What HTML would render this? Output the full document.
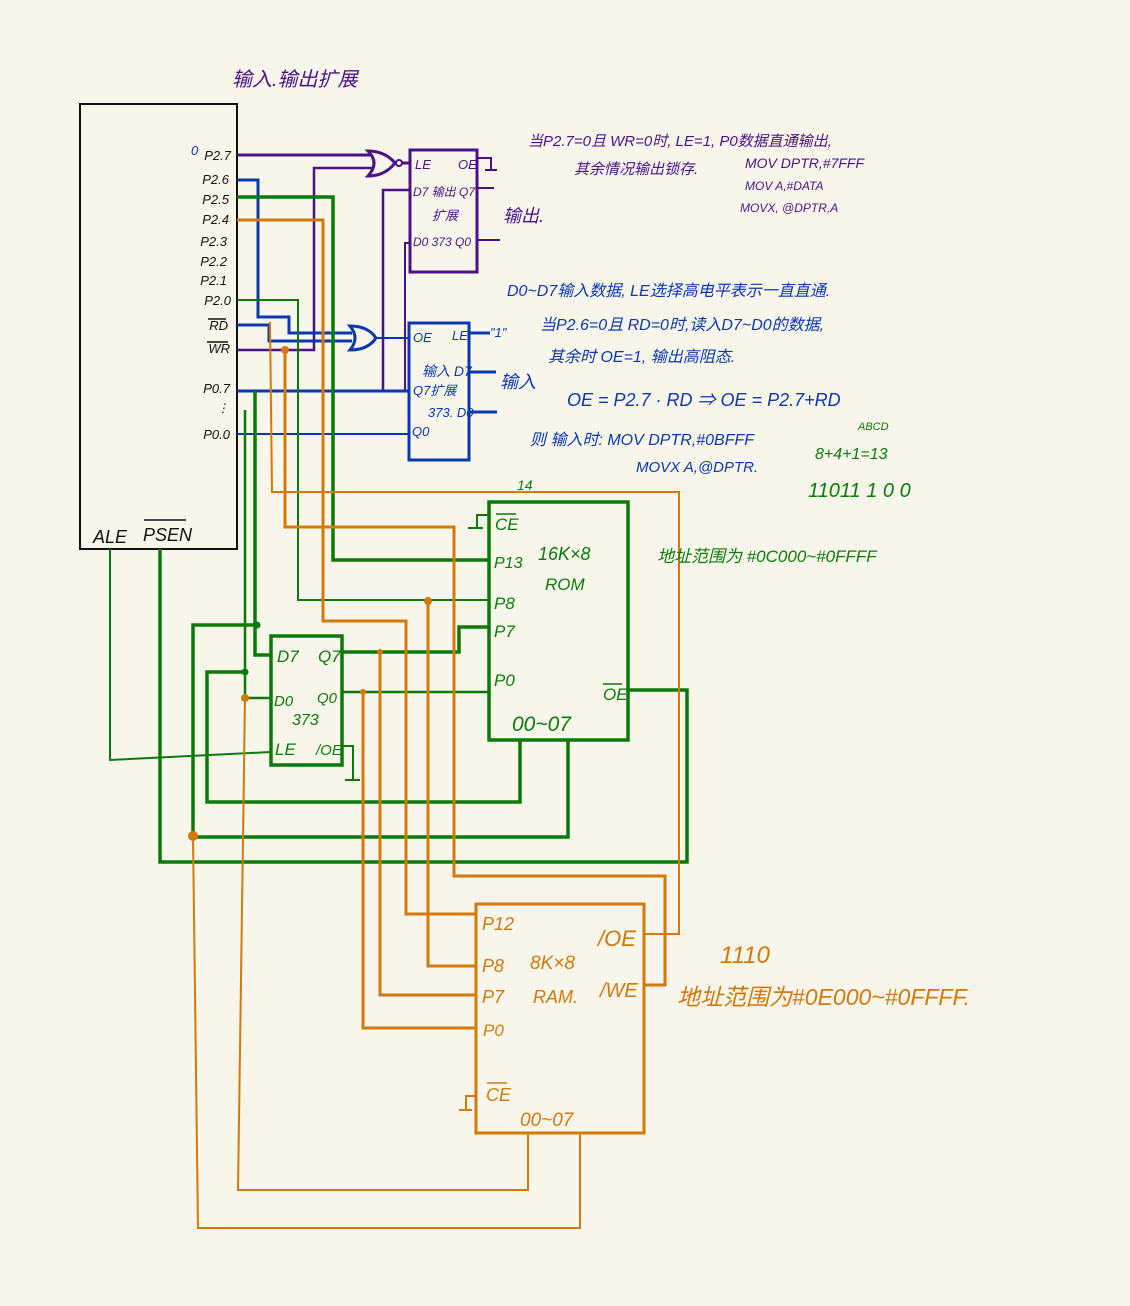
<!DOCTYPE html>
<html><head><meta charset="utf-8"><style>
html,body{margin:0;padding:0;background:#f8f6ea}
svg{display:block}
text{font-family:"Liberation Sans","Noto Sans CJK SC",sans-serif;font-style:italic}
</style></head><body>
<svg width="1130" height="1306" viewBox="0 0 1130 1306" xmlns="http://www.w3.org/2000/svg">
<rect width="1130" height="1306" fill="#f8f6ea"/>
<g fill="none" stroke-linejoin="miter">
<!-- MCU -->
<rect x="80" y="104" width="157" height="445" stroke="#111" stroke-width="2"/>
<!-- purple -->
<g stroke="#4a1186" stroke-width="3">
<path d="M237 155H372"/>
<path d="M237 350H314V168H372" stroke-width="2.5"/>
<path d="M368 151Q380 163 368 176Q385 176 395 163Q385 151 368 151Z"/>
<circle cx="399" cy="163" r="3" stroke-width="2"/>
<path d="M402 163H410"/>
<rect x="410" y="150" width="67" height="122"/>
<path d="M383 390V190H410" stroke-width="2.5"/>
<path d="M405 390V243H410" stroke-width="2"/>
<path d="M477 188H494M477 240H500M477 158H491V170M485 170H497" stroke-width="2"/>
</g>
<!-- blue -->
<g stroke="#0a37b0" stroke-width="3">
<path d="M237 180H258V317H289V333H352"/>
<path d="M237 325H269V341H352"/>
<path d="M350 326Q360 338 350 350Q368 350 376 338Q368 326 350 326Z"/>
<path d="M376 338H408" stroke-width="2"/>
<rect x="409" y="323" width="60" height="137"/>
<path d="M237 391H409"/>
<path d="M237 434H409" stroke-width="2"/>
<path d="M469 333H490M469 372H496M469 412H497"/>
</g>
<!-- green -->
<g stroke="#0b7a0b" stroke-width="3.5">
<path d="M237 197H333V560H489"/>
<path d="M237 300H298V600H489" stroke-width="2"/>
<path d="M255 391V655H271"/>
<path d="M257 625H193V837H568V740"/>
<path d="M245 410V698H271" stroke-width="2.5"/>
<path d="M245 672H207V802H520V740"/>
<path d="M110 549V760L271 752" stroke-width="2"/>
<path d="M160 549V862H687V690H628"/>
<rect x="271" y="636" width="71" height="129"/>
<path d="M342 652H459V627H489"/>
<path d="M342 692H489" stroke-width="2.5"/>
<rect x="489" y="502" width="139" height="238"/>
<path d="M489 515H477V528M468 528H483" stroke-width="2"/>
<path d="M342 746H353V780M345 780H360" stroke-width="2"/>
</g>
<g fill="#0b7a0b"><circle cx="257" cy="625" r="3.5"/><circle cx="245" cy="672" r="3.5"/></g>
<!-- orange -->
<g stroke="#d4780c" stroke-width="3">
<path d="M237 220H323V621H406V914H476"/>
<path d="M285 350V527H454V876H665V985H645"/>
<path d="M270 322L272 492H679V934H645" stroke-width="2"/>
<path d="M428 601V966H476"/>
<path d="M380 652V995H476"/>
<path d="M363 692V1028H476"/>
<path d="M245 698L238 1190H528V1133" stroke-width="2"/>
<path d="M193 836L198 1228H580V1133" stroke-width="2"/>
<rect x="476" y="904" width="168" height="229"/>
<path d="M476 1096H466V1110M459 1110H472" stroke-width="2"/>
</g>
<g fill="#d4780c"><circle cx="285" cy="350" r="4"/><circle cx="428" cy="601" r="4"/><circle cx="380" cy="652" r="3"/><circle cx="363" cy="692" r="3"/><circle cx="245" cy="698" r="4"/><circle cx="193" cy="836" r="5"/></g>
</g>
<!-- MCU labels -->
<g fill="#111" font-size="13" text-anchor="end">
<text x="231" y="160">P2.7</text><text x="229" y="184">P2.6</text><text x="229" y="204">P2.5</text><text x="229" y="224">P2.4</text>
<text x="227" y="246">P2.3</text><text x="227" y="266">P2.2</text><text x="227" y="285">P2.1</text><text x="231" y="305">P2.0</text>
<text x="228" y="330">RD</text><text x="230" y="353">WR</text><text x="230" y="393">P0.7</text><text x="230" y="439">P0.0</text>
</g>
<path d="M208 319H226M207 342H228" stroke="#111" stroke-width="1.5"/>
<text x="217" y="412" fill="#111" font-size="12">⋮</text>
<text x="191" y="155" fill="#0a37b0" font-size="13">0</text>
<text x="93" y="543" fill="#111" font-size="18">ALE</text><text x="143" y="541" fill="#111" font-size="18">PSEN</text>
<path d="M144 520H186" stroke="#111" stroke-width="1.5"/>
<!-- purple text -->
<g fill="#4a1186">
<text x="232" y="86" font-size="20">输入.输出扩展</text>
<text x="415" y="169" font-size="13">LE</text><text x="458" y="169" font-size="13">OE</text>
<text x="413" y="196" font-size="12">D7 输出 Q7</text><text x="432" y="220" font-size="13">扩展</text>
<text x="413" y="246" font-size="12">D0 373 Q0</text>
<text x="503" y="222" font-size="18">输出.</text>
<text x="528" y="146" font-size="15">当P2.7=0且 WR=0时, LE=1, P0数据直通输出,</text>
<text x="574" y="174" font-size="15">其余情况输出锁存.</text>
<text x="745" y="168" font-size="14">MOV DPTR,#7FFF</text>
<text x="745" y="190" font-size="12">MOV  A,#DATA</text>
<text x="740" y="212" font-size="12">MOVX, @DPTR,A</text>
</g>
<!-- blue text -->
<g fill="#0a37b0">
<text x="413" y="342" font-size="13">OE</text><text x="452" y="340" font-size="13">LE</text><text x="490" y="337" font-size="13">"1"</text>
<text x="422" y="376" font-size="14">输入 D7</text><text x="413" y="395" font-size="13">Q7扩展</text>
<text x="428" y="417" font-size="13">373. D0</text><text x="412" y="436" font-size="13">Q0</text>
<text x="500" y="388" font-size="18">输入</text>
<text x="507" y="296" font-size="16">D0~D7输入数据, LE选择高电平表示一直直通.</text>
<text x="540" y="330" font-size="16">当P2.6=0且 RD=0时,读入D7~D0的数据,</text>
<text x="548" y="362" font-size="16">其余时 OE=1, 输出高阻态.</text>
<text x="567" y="406" font-size="18">OE = P2.7 · RD ⇒ OE = P2.7+RD</text>
<text x="530" y="445" font-size="16">则 输入时: MOV DPTR,#0BFFF</text>
<text x="636" y="472" font-size="15">MOVX A,@DPTR.</text>
</g>
<!-- green text -->
<g fill="#0b7a0b">
<text x="277" y="662" font-size="17">D7</text><text x="318" y="662" font-size="17">Q7</text>
<text x="274" y="706" font-size="15">D0</text><text x="317" y="703" font-size="15">Q0</text>
<text x="292" y="725" font-size="16">373</text>
<text x="275" y="755" font-size="17">LE</text><text x="316" y="755" font-size="15">/OE</text>
<text x="495" y="530" font-size="17">CE</text><path d="M496 514H516" stroke="#0b7a0b" stroke-width="1.5"/>
<text x="494" y="568" font-size="16">P13</text><text x="494" y="609" font-size="17">P8</text>
<text x="494" y="637" font-size="17">P7</text><text x="494" y="686" font-size="17">P0</text>
<text x="538" y="560" font-size="18">16K×8</text><text x="545" y="590" font-size="17">ROM</text>
<text x="603" y="700" font-size="17">OE</text><path d="M603 684H622" stroke="#0b7a0b" stroke-width="1.5"/>
<text x="512" y="731" font-size="21">00~07</text>
<text x="517" y="490" font-size="14">14</text>
<text x="657" y="562" font-size="17">地址范围为 #0C000~#0FFFF</text>
<text x="858" y="430" font-size="11">ABCD</text>
<text x="815" y="459" font-size="16">8+4+1=13</text>
<text x="808" y="497" font-size="20">11011 1 0 0</text>
</g>
<!-- orange text -->
<g fill="#d4780c">
<text x="482" y="930" font-size="18">P12</text><text x="482" y="972" font-size="18">P8</text>
<text x="482" y="1003" font-size="18">P7</text><text x="483" y="1036" font-size="17">P0</text>
<text x="530" y="969" font-size="19">8K×8</text><text x="533" y="1003" font-size="18">RAM.</text>
<text x="598" y="946" font-size="22">/OE</text><text x="600" y="997" font-size="20">/WE</text>
<text x="486" y="1101" font-size="18">CE</text><path d="M487 1083H507" stroke="#d4780c" stroke-width="1.5"/>
<text x="520" y="1126" font-size="19">00~07</text>
<text x="720" y="963" font-size="24">1110</text>
<text x="677" y="1005" font-size="23">地址范围为#0E000~#0FFFF.</text>
</g>
</svg>
</body></html>
